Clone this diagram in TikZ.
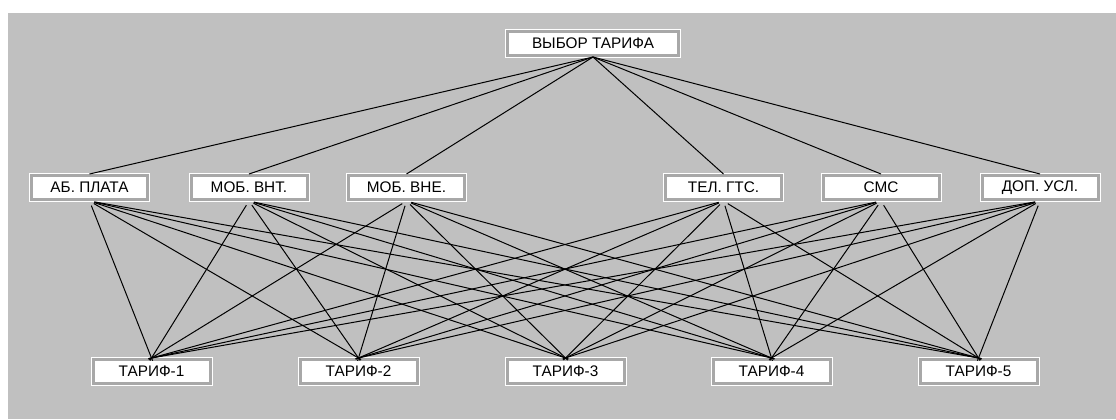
\documentclass[tikz,border=0pt]{standalone}
\usepackage{fontspec}
\setmainfont{Liberation Sans}
\definecolor{bggray}{RGB}{192,192,192}
\definecolor{bevel}{RGB}{168,168,168}
\tikzset{
  winbox/.style={preaction={draw=white,line width=3.75pt},draw=bevel,line width=2.25pt,fill=white,
    inner sep=0pt,minimum height=18pt,font=\fontsize{11.5}{12}\selectfont,text=black},
  topbox/.style={winbox,minimum width=128.25pt},
  midbox/.style={winbox,minimum width=87pt},
  lowbox/.style={winbox,minimum width=87.75pt},
  link/.style={draw=black,line width=0.75pt},
  downlink/.style={link,shorten <=3.75pt,shorten >=-2.25pt}
}
\begin{document}
\begin{tikzpicture}[x=0.75pt,y=-0.75pt]
\useasboundingbox (0,0) rectangle (1116,419);
\fill[white] (0,0) rectangle (1116,419);
\fill[bggray] (8,13) rectangle (1116,419);
% nodes
\node[topbox] (top) at (593,43.5) {ВЫБОР ТАРИФА};
\node[midbox] (m1) at (89.5,187.5) {АБ. ПЛАТА};
\node[midbox] (m2) at (249,187.5) {МОБ. ВНТ.};
\node[midbox] (m3) at (406.5,187.5) {МОБ. ВНЕ.};
\node[midbox] (m4) at (723.5,187.5) {ТЕЛ. ГТС.};
\node[midbox] (m5) at (881,187.5) {СМС};
\node[midbox] (m6) at (1040,187.5) {ДОП. УСЛ.};
\node[lowbox] (t1) at (151.5,371.5) {ТАРИФ-1};
\node[lowbox] (t2) at (358.5,371.5) {ТАРИФ-2};
\node[lowbox] (t3) at (565.5,371.5) {ТАРИФ-3};
\node[lowbox] (t4) at (771.5,371.5) {ТАРИФ-4};
\node[lowbox] (t5) at (978.5,371.5) {ТАРИФ-5};
% connectors
\foreach \m in {m1,m2,m3,m4,m5,m6}{
  \draw[link] (top.south) -- (\m.north);
}
\foreach \m in {m1,m2,m3,m4,m5,m6}{
  \foreach \t in {t1,t2,t3,t4,t5}{
    \draw[downlink] (\m.south) -- (\t.north);
  }
}
\end{tikzpicture}
\end{document}
